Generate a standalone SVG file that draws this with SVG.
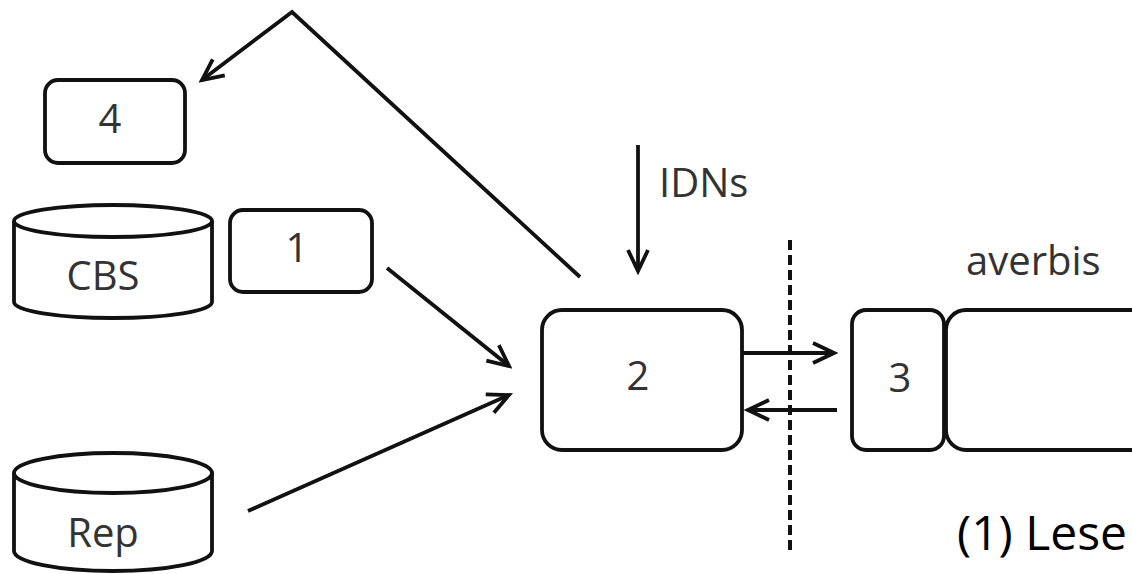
<svg xmlns="http://www.w3.org/2000/svg" width="1132" height="574" viewBox="0 0 1132 574">
  <style>
    .shape { fill: #fff; stroke: #111; stroke-width: 3.8; }
    .line { fill: none; stroke: #111; stroke-width: 3.8; }
    .lbl { font-family: "Open Sans", "Noto Sans", sans-serif; font-size: 40px; fill: #333; }
    .mid { text-anchor: middle; }
  </style>
  <defs>
    <marker id="arr" viewBox="-26 -14 30 28" refX="0" refY="0" markerWidth="30" markerHeight="28" markerUnits="userSpaceOnUse" orient="auto">
      <path d="M-21,-10 L0,0 L-21,10" fill="none" stroke="#111" stroke-width="3.8" stroke-linejoin="miter"/>
    </marker>
  </defs>
  <rect width="1132" height="574" fill="#fff"/>

  <g id="node-4">
    <rect class="shape" x="45" y="80" width="140" height="83" rx="13"/>
    <text class="lbl mid" x="110" y="133">4</text>
  </g>
  <g id="node-cbs">
    <path class="shape" d="M14,221 A99,16 0 0 1 212,221 V302 A99,16 0 0 1 14,302 Z"/>
    <path class="line" d="M14,221 A99,16 0 0 0 212,221"/>
    <text class="lbl mid" x="103" y="290">CBS</text>
  </g>
  <g id="node-1">
    <rect class="shape" x="230" y="210" width="142" height="82" rx="13"/>
    <text class="lbl mid" x="297" y="262">1</text>
  </g>
  <g id="node-rep">
    <path class="shape" d="M14,473 A99,20 0 0 1 212,473 V551 A99,20 0 0 1 14,551 Z"/>
    <path class="line" d="M14,473 A99,20 0 0 0 212,473"/>
    <text class="lbl mid" x="103" y="547">Rep</text>
  </g>
  <g id="node-2">
    <rect class="shape" x="542" y="310" width="200" height="140" rx="20"/>
    <text class="lbl mid" x="638" y="390">2</text>
  </g>
  <g id="node-3">
    <rect class="shape" x="852" y="310" width="92" height="140" rx="14"/>
    <text class="lbl mid" x="900" y="392">3</text>
  </g>
  <g id="node-averbis">
    <rect class="shape" x="946" y="310" width="210" height="140" rx="20"/>
    <text class="lbl" x="966" y="275">averbis</text>
  </g>
  <g id="label-idns">
    <text class="lbl" x="659" y="197">IDNs</text>
  </g>
  <g id="boundary">
    <line x1="790" y1="240" x2="790" y2="553" stroke="#111" stroke-width="4" stroke-dasharray="10,5"/>
  </g>
  <g id="caption">
    <text x="957" y="550" font-family="Open Sans, Noto Sans, sans-serif" font-size="48" fill="#000">(1) Lese</text>
  </g>

  <g id="connectors">
    <path class="line" d="M580,277 L292,12 L202,80" marker-end="url(#arr)"/>
    <line class="line" x1="638" y1="145" x2="638" y2="271" marker-end="url(#arr)"/>
    <line class="line" x1="387" y1="268" x2="509" y2="366" marker-end="url(#arr)"/>
    <line class="line" x1="248" y1="511" x2="509" y2="395" marker-end="url(#arr)"/>
    <line class="line" x1="742" y1="353" x2="834" y2="353" marker-end="url(#arr)"/>
    <line class="line" x1="837" y1="410" x2="748" y2="410" marker-end="url(#arr)"/>
  </g>
</svg>
